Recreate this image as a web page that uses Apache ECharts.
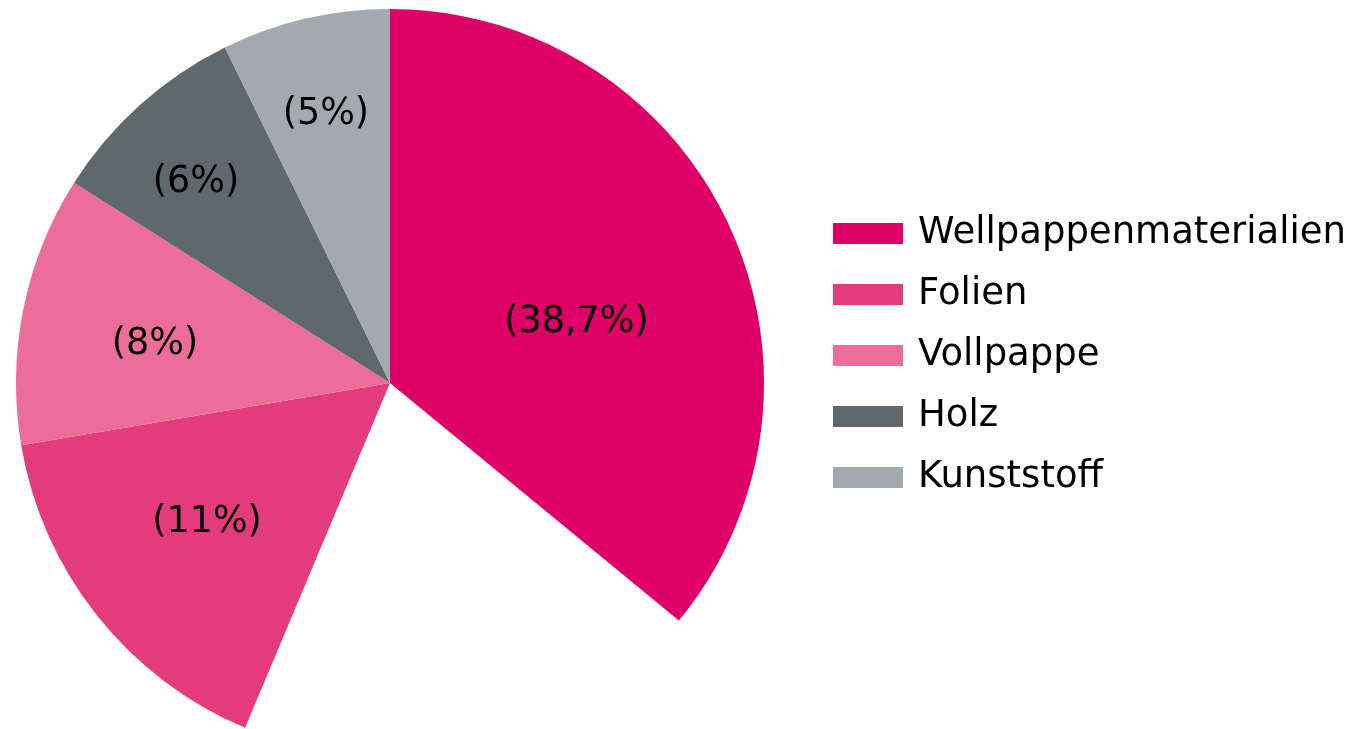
<!DOCTYPE html>
<html>
<head>
<meta charset="utf-8">
<script src="https://cdn.jsdelivr.net/npm/echarts@6/dist/echarts.min.js"></script>
<style>
  html, body { margin: 0; padding: 0; background: #ffffff; }
  #chart { width: 1363px; height: 729px; }
</style>
</head>
<body>
<div id="chart"></div>
<script>
// ---- data ----
const categories = ['Wellpappenmaterialien', 'Folien', 'Vollpappe', 'Holz', 'Kunststoff'];
// percentages as printed in the slice labels
const shareLabels = [38.7, 11, 8, 6, 5];
// drawn slice sizes (same units as the labels; the first slice is drawn smaller)
const sliceValues = [24.7, 11, 8, 6, 5];
// unlabelled white gap drawn after the first slice
const gapValue = 14.0;

// ---- styles ----
const colors = ['#DE0066', '#E33B7B', '#EC6C9A', '#5F686D', '#A2A9AF'];
// label placement (polar, relative to the pie): angle clockwise from top, fraction of radius
const labelAngleDeg = [71.1, 233.2, 279.9, 316.3, 346.7];
const labelRadiusFrac = [0.527, 0.611, 0.638, 0.751, 0.745];
const CX = 390, CY = 383, R = 374;
const LABEL_BASELINE_FIX = 3;
const FONT = '"DejaVu Sans", sans-serif';

function fmt(v) { return '(' + String(v).replace('.', ',') + '%)'; }

const pieData = [];
const labelIdxByData = [];
categories.forEach(function (name, i) {
  pieData.push({
    name: name,
    value: sliceValues[i],
    itemStyle: { color: colors[i] },
    label: { formatter: fmt(shareLabels[i]) }
  });
  labelIdxByData.push(i);
  if (i === 0) {
    pieData.push({
      name: '__gap',
      value: gapValue,
      itemStyle: { color: 'rgba(0,0,0,0)' },
      label: { show: false },
      emphasis: { disabled: true }
    });
    labelIdxByData.push(null);
  }
});

const chart = echarts.init(document.getElementById('chart'), null, { renderer: 'canvas' });
chart.setOption({
  animation: false,
  backgroundColor: '#ffffff',
  legend: {
    orient: 'vertical',
    left: 833,
    top: 215,
    padding: 0,
    data: categories,
    icon: 'rect',
    itemWidth: 70,
    itemHeight: 21,
    itemGap: 24,
    selectedMode: false,
    textStyle: {
      fontFamily: FONT,
      fontSize: 37,
      lineHeight: 36,
      color: '#000000',
      padding: [0, 0, 0, 10]
    }
  },
  series: [{
    type: 'pie',
    center: [CX, CY],
    radius: [0, R],
    startAngle: 90,
    clockwise: true,
    silent: true,
    avoidLabelOverlap: false,
    itemStyle: { borderWidth: 0 },
    label: {
      show: true,
      position: 'inside',
      color: '#000000',
      fontFamily: FONT,
      fontSize: 36.5,
      textBorderWidth: 0
    },
    labelLine: { show: false },
    labelLayout: function (params) {
      const k = labelIdxByData[params.dataIndex];
      if (k == null) return {};
      const lr = params.labelRect;
      const lx = lr.x + lr.width / 2, ly = lr.y + lr.height / 2;
      const a = labelAngleDeg[k] * Math.PI / 180;
      const tx = CX + Math.sin(a) * labelRadiusFrac[k] * R;
      const ty = CY - Math.cos(a) * labelRadiusFrac[k] * R + LABEL_BASELINE_FIX;
      return { dx: tx - lx, dy: ty - ly };
    },
    data: pieData
  }]
});
</script>
</body>
</html>
